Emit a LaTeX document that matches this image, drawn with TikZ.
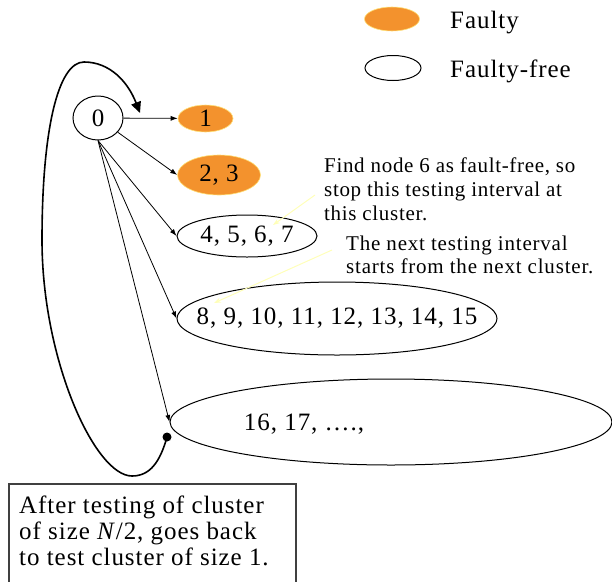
\documentclass[tikz,border=0pt]{standalone}
\usepackage{fontspec}
\setmainfont{Liberation Serif}[LetterSpace=3.8]
\usetikzlibrary{shapes.geometric,arrows.meta}
\definecolor{faulty}{RGB}{243,146,45}
\definecolor{faultyedge}{RGB}{255,225,120}
\definecolor{hint}{RGB}{255,255,185}
\begin{document}
\begin{tikzpicture}[x=1pt,y=-1pt,
  txt/.style={font=\fontsize{25}{26}\selectfont, inner sep=0pt},
  small/.style={font=\fontsize{21}{24}\selectfont\addfontfeature{LetterSpace=3.2}, inner sep=0pt},
  cl/.style={ellipse, draw=black, line width=1pt, inner sep=0pt},
  fl/.style={ellipse, fill=faulty, draw=faultyedge, line width=0.6pt, inner sep=0pt},
  edgeline/.style={line width=0.8pt, -{Latex[length=7pt,width=5pt]}},
  hintline/.style={draw=hint, line width=1pt, -{Stealth[length=7pt,width=5pt]}},
  loopline/.style={line width=1.6pt, -{Triangle[length=11pt,width=10pt]}},
]
\useasboundingbox (0,0) rectangle (612,581);
% legend
\node[fl, minimum width=55pt, minimum height=24pt] (lf) at (392,19) {};
\node[txt, anchor=base west] (lft) at (450,28) {Faulty};
\node[cl, minimum width=56pt, minimum height=25pt] (lff) at (393,68) {};
\node[txt, anchor=base west] (lfft) at (450,77) {Faulty-free};
% clusters
\node[cl, minimum width=50pt, minimum height=44pt] (n0) at (98,118) {};
\node[txt] (n0t) at (n0) {0};
\node[fl, minimum width=55pt, minimum height=27pt] (n1) at (205.5,118.5) {};
\node[txt] (n1t) at (n1) {1};
\node[fl, minimum width=83pt, minimum height=40pt] (n2) at (219,175) {};
\node[txt] (n2t) at (n2) {2, 3};
\node[cl, minimum width=140pt, minimum height=42pt] (n4) at (247,236) {};
\node[txt] (n4t) at (n4) {4, 5, 6, 7};
\node[cl, minimum width=320pt, minimum height=73pt] (n8) at (337,318.5) {};
\node[txt] (n8t) at (n8) {8, 9, 10, 11, 12, 13, 14, 15};
\node[cl, minimum width=442pt, minimum height=86pt] (n16) at (391,422) {};
\node[txt] (t16) at (304,424) {16, 17, \dots.,};
% edges
\draw[edgeline] (n0) -- (n1);
\draw[edgeline] (n0) -- (n2.west);
\draw[edgeline] (n0.south) -- (n4.west);
\draw[edgeline] (n0.south) -- (n8.west);
\draw[edgeline] (n0.south) -- (n16.west);
% loop back
\coordinate (ls) at (167,437);
\coordinate (le) at (140,113);
\fill (ls) circle (4.5);
\draw[loopline] (ls) .. controls (160,462) and (150,476) .. (132,476)
  .. controls (95,476) and (42,360) .. (42,240)
  .. controls (42,130) and (58,62) .. (84,62)
  .. controls (110,62) and (128,82) .. (le);
% annotations
\node[small, anchor=base west, align=left] (a1) at (324,220)
  {Find node 6 as fault-free, so\\stop this testing interval at\\this cluster.};
\node[small, anchor=base west, align=left, font=\fontsize{21}{23}\selectfont] (a2) at (346,273)
  {The next testing interval\\starts from the next cluster.};
\coordinate (h1s) at (315,195);
\coordinate (h1e) at (273,225);
\coordinate (h2s) at (332,250);
\coordinate (h2e) at (214,303);
\draw[hintline] (h1s) -- (h1e);
\draw[hintline] (h2s) -- (h2e);
% note box
\draw[line width=1.2pt, draw=black!75] (9,484) rectangle (296,600);
\node[txt, anchor=base west, align=left] (note) at (19,565)
  {After testing of cluster\\of size \emph{N}/2, goes back\\to test cluster of size 1.};
\end{tikzpicture}
\end{document}
